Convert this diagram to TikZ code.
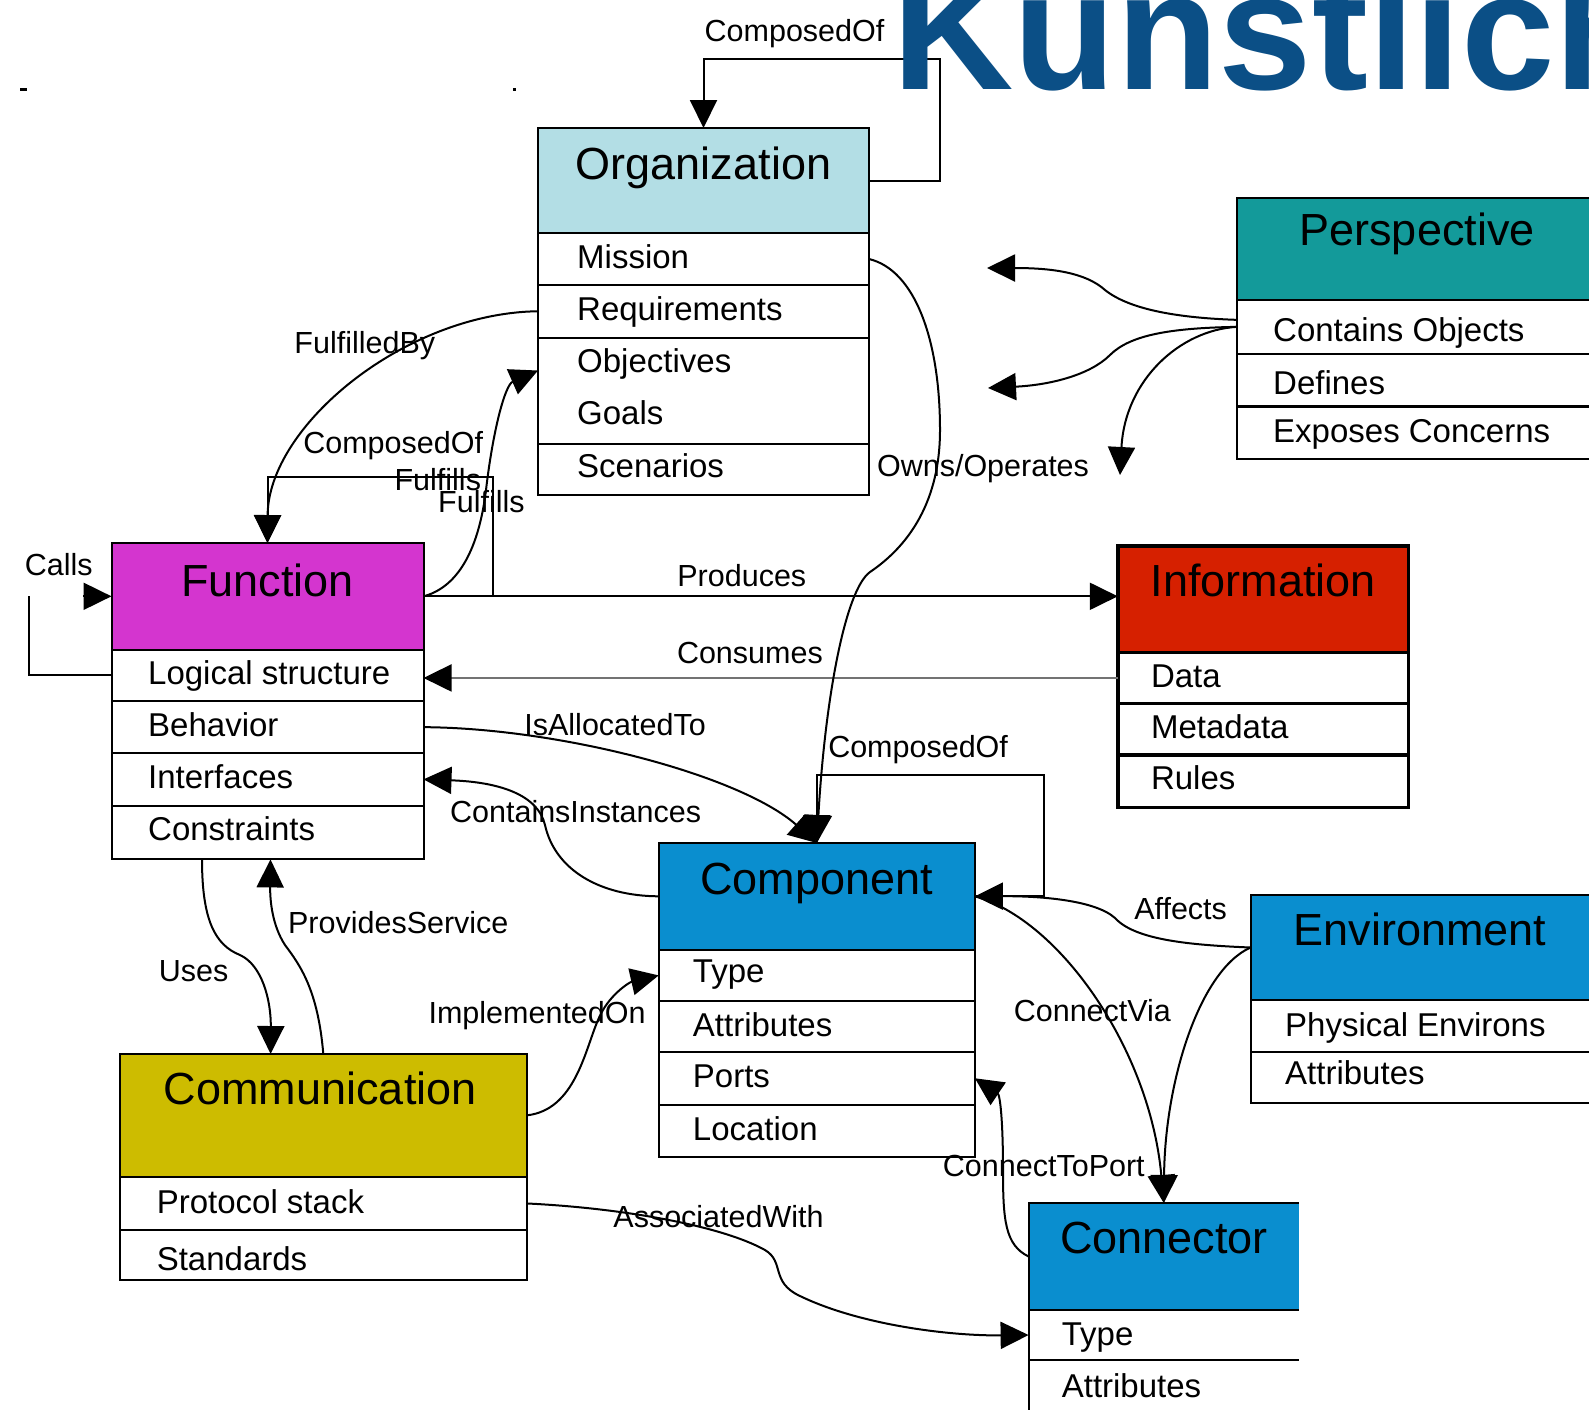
\documentclass[tikz,border=0pt]{standalone}
\usepackage{fontspec}
\setmainfont{Liberation Sans}
\usetikzlibrary{arrows.meta,calc}

\definecolor{orgc}{HTML}{B3DEE5}
\definecolor{funcc}{HTML}{D435CF}
\definecolor{persc}{HTML}{139A9A}
\definecolor{infoc}{HTML}{D62000}
\definecolor{compc}{HTML}{0A8ECF}
\definecolor{commc}{HTML}{CDBC00}
\definecolor{headc}{HTML}{0B4F86}

\tikzset{
  hdr/.style={draw, line width=2pt, inner sep=0pt, outer sep=0pt, anchor=north west},
  rowbox/.style={draw, line width=2pt, fill=white, inner sep=0pt, outer sep=0pt, anchor=north west},
  openrow/.style={fill=white, inner sep=0pt, outer sep=0pt, anchor=north west},
  ttl/.style={font=\fontsize{45}{50}\selectfont, anchor=base, inner sep=0pt},
  rtxt/.style={font=\fontsize{33}{38}\selectfont, anchor=base west, inner sep=0pt},
  lbl/.style={font=\fontsize{30.5}{34}\selectfont, inner sep=0pt},
  conn/.style={line width=2pt},
  arr/.style={line width=2pt, -{Triangle[length=28pt,width=27pt,color=black]}},
}

% one attribute row of a class box:
% [style] name, box above, width, height, text indent, text baseline drop, text
\newcommand\classrow[8][rowbox]{%
  \node[#1, minimum width=#4, minimum height=#5] (#2) at (#3.south west) {};
  \node[rtxt] (#2-t) at ($(#2.north west)+(#6,#7)$) {#8};
}

\begin{document}
\begin{tikzpicture}[x=1pt,y=-1pt]
\useasboundingbox (0,0) rectangle (1589,1409);
\fill[white] (0,0) rectangle (1589,1409);
\clip (0,0) rectangle (1589,1409);

% stray marks in the top margin
\fill (20,88) rectangle (27,91);
\fill (513,88) rectangle (516,91);

% ---------- Organization ----------
\node[hdr, fill=orgc, minimum width=331pt, minimum height=105pt] (org) at (538,128) {};
\node[ttl] (org-t) at ($(org.north)+(0,51)$) {Organization};
\classrow{orgMis}{org}{331pt}{52pt}{39}{35}{Mission}
\classrow{orgReq}{orgMis}{331pt}{52.5pt}{39}{35}{Requirements}
\classrow{orgObj}{orgReq}{331pt}{106.5pt}{39}{35}{Objectives}
\node[rtxt] (orgGoals-t) at ($(orgObj.north west)+(39,87)$) {Goals};
\classrow{orgSce}{orgObj}{331pt}{50.5pt}{39}{33}{Scenarios}

% ---------- Function ----------
\node[hdr, fill=funcc, minimum width=312pt, minimum height=106.6pt] (fn) at (111.5,543) {};
\node[ttl] (fn-t) at ($(fn.north)+(0,53)$) {Function};
\classrow{fnLog}{fn}{312pt}{51.7pt}{36.5}{35}{Logical structure}
\classrow{fnBeh}{fnLog}{312pt}{51.7pt}{36.5}{35}{Behavior}
\classrow{fnInt}{fnBeh}{312pt}{52.7pt}{36.5}{35}{Interfaces}
\classrow{fnCon}{fnInt}{312pt}{53.7pt}{36.5}{35}{Constraints}

% ---------- Perspective ----------
\node[hdr, fill=persc, minimum width=380pt, minimum height=102.4pt] (pers) at (1237,197.6) {};
\node[ttl] (pers-t) at ($(pers.north west)+(180,48)$) {Perspective};
\classrow{persCont}{pers}{380pt}{53.7pt}{36}{41}{Contains Objects}
\classrow{persDef}{persCont}{380pt}{52.7pt}{36}{41}{Defines}
\classrow{persExp}{persDef}{380pt}{52.6pt}{36}{36}{Exposes Concerns}
\draw[line width=3.5pt] (persDef.south west) -- (persDef.south east);

% ---------- Information ----------
\node[hdr, line width=3.5pt, fill=infoc, minimum width=290.8pt, minimum height=106.4pt] (info) at (1117.8,546.2) {};
\node[ttl] (info-t) at ($(info.north)+(0,50)$) {Information};
\classrow[rowbox,line width=3.5pt]{infoData}{info}{290.8pt}{50.7pt}{33}{35}{Data}
\classrow[rowbox,line width=3.5pt]{infoMeta}{infoData}{290.8pt}{51.7pt}{33}{35}{Metadata}
\classrow[rowbox,line width=3.5pt]{infoRules}{infoMeta}{290.8pt}{52.7pt}{33}{34}{Rules}

% ---------- Component ----------
\node[hdr, fill=compc, minimum width=316.2pt, minimum height=106.6pt] (comp) at (658.7,843) {};
\node[ttl] (comp-t) at ($(comp.north)+(0,51)$) {Component};
\classrow{compType}{comp}{316.2pt}{51.6pt}{34}{33}{Type}
\classrow{compAttr}{compType}{316.2pt}{50.7pt}{34}{35}{Attributes}
\classrow{compPorts}{compAttr}{316.2pt}{52.7pt}{34}{36}{Ports}
\classrow{compLoc}{compPorts}{316.2pt}{52.7pt}{34}{36}{Location}

% ---------- Environment ----------
\node[hdr, fill=compc, minimum width=360pt, minimum height=105.4pt] (env) at (1250.5,894.8) {};
\node[ttl] (env-t) at ($(env.north west)+(169.3,51)$) {Environment};
\classrow{envPhys}{env}{360pt}{51.7pt}{34.5}{36}{Physical Environs}
\classrow{envAttr}{envPhys}{360pt}{50.7pt}{34.5}{33}{Attributes}

% ---------- Communication ----------
\node[hdr, fill=commc, minimum width=407.4pt, minimum height=122.6pt] (comm) at (119.6,1054) {};
\node[ttl] (comm-t) at ($(comm.north)+(-3,50)$) {Communication};
\classrow{commProt}{comm}{407.4pt}{53.7pt}{37}{37}{Protocol stack}
\classrow{commStd}{commProt}{407.4pt}{49.7pt}{37}{40}{Standards}

% ---------- Connector (open on the right) ----------
\node[hdr, draw=none, fill=compc, minimum width=270.4pt, minimum height=107pt] (con) at (1028.6,1203) {};
\node[ttl] (con-t) at ($(con.north)+(0,50)$) {Connector};
\classrow[openrow]{conType}{con}{270.4pt}{50pt}{33}{35}{Type}
\classrow[openrow]{conAttr}{conType}{270.4pt}{70pt}{33}{37}{Attributes}
\draw[line width=2pt] (con.north east) -- (con.north west) -- (conAttr.south west)
  (conType.north west) -- (conType.north east)
  (conType.south west) -- (conType.south east);

% ---------- relations ----------
% Organization ComposedOf
\draw[arr] (org.east) -| (940.4,58.8) -| (org.north);
% FulfilledBy
\draw[arr] (orgReq.west) .. controls (405,313) and (268,426) .. (fn.north);
% Function ComposedOf
\draw[arr] (fn.east) -| (493,477) -| (fn.north);
% Fulfills
\coordinate (fulTip) at ($(orgObj.north west)+(0,33)$);
\draw[arr] (fn.east) .. controls (455,588) and (478,555) .. (486,490)
  .. controls (493,430) and (505,385) .. (fulTip);
% Calls
\coordinate (callsCorner) at (29,596.3);
\coordinate (callsGap) at (83,596.3);
\draw[conn] (fnLog.west) -| (callsCorner);
\draw[arr] (callsGap) -- (fn.west);
% Produces / Consumes
\draw[arr] (fn.east) -- (fn.east -| info.west);
\draw[arr, draw=black!55] (infoData.west) -- (infoData.west -| fnLog.east);
% IsAllocatedTo
\draw[arr] (fnBeh.east) .. controls (560,728) and (740,775) .. (comp.north);
% Owns/Operates
\draw[arr] (orgMis.east) .. controls (915,270) and (940,340) .. (940,430)
  .. controls (940,500) and (910,545) .. (870,572)
  .. controls (845,590) and (825,700) .. (comp.north);
% Component ComposedOf
\draw[arr] (comp.east) -| (1044,775.3) -| (comp.north);
% ContainsInstances
\draw[arr] (comp.west) .. controls (600,896) and (555,870) .. (545,825)
  .. controls (538,795) and (500,782) .. (fnInt.east);
% Uses
\draw[arr] ($(fnCon.south west)+(90.5,0)$) .. controls (202,920) and (215,945) .. (240,955)
  .. controls (262,965) and (271,1000) .. ($(comm.north west)+(151,0)$);
% ProvidesService
\draw[arr] (comm.north) .. controls (318,990) and (300,965) .. (285,945)
  .. controls (272,925) and (270,900) .. ($(fnCon.south)+(3,0)$);
% ImplementedOn
\draw[arr] (comm.east) .. controls (575,1110) and (585,1050) .. (598,1020)
  .. controls (608,995) and (630,982) .. (compType.west);
% AssociatedWith
\draw[arr] (commProt.east) .. controls (620,1208) and (720,1225) .. (765,1250)
  .. controls (785,1262) and (770,1282) .. (800,1296)
  .. controls (860,1325) and (950,1336) .. (conType.west);
% ConnectToPort
\draw[arr] (con.west) .. controls (1005,1245) and (1003,1220) .. (1003,1170)
  .. controls (1003,1120) and (1000,1095) .. (compPorts.east);
% ConnectVia
\draw[arr] (comp.east) .. controls (1060,920) and (1150,1050) .. (con.north);
% Affects
\draw[arr] (env.west) .. controls (1190,945) and (1135,940) .. (1115,918)
  .. controls (1095,900) and (1040,896) .. (comp.east);
\draw[arr] (env.west) .. controls (1200,970) and (1165,1080) .. (con.north);
% Perspective
\coordinate (pa) at (987,268);
\coordinate (pb) at (988,388);
\coordinate (pc) at (1120,475);
\draw[arr] ($(persCont.west)+(0,-7)$) .. controls (1180,318) and (1130,310) .. (1105,290)
  .. controls (1085,272) and (1050,268) .. (pa);
\draw[arr] (persCont.west) .. controls (1170,328) and (1130,335) .. (1110,355)
  .. controls (1090,375) and (1050,385) .. (pb);
\draw[arr] (persCont.west) .. controls (1180,330) and (1125,380) .. (pc);

% ---------- relation labels ----------
\node[lbl] (l-orgcomp) at (794.5,33.4) {ComposedOf};
\node[lbl] (l-fulby) at (364.8,345.6) {FulfilledBy};
\node[lbl] (l-fncomp) at (393.2,445.9) {ComposedOf};
\node[lbl] (l-ful1) at (437.8,479.3) {Fulfills};
\node[lbl] (l-ful2) at (481.4,501.6) {Fulfills};
\node[lbl] (l-calls) at (58.8,564.5) {Calls};
\node[lbl] (l-owns) at (983,468.2) {Owns/Operates};
\node[lbl] (l-prod) at (741.8,575.6) {Produces};
\node[lbl] (l-cons) at (749.9,652.6) {Consumes};
\node[lbl] (l-alloc) at (615.1,724.6) {IsAllocatedTo};
\node[lbl] (l-compcomp) at (918.1,749.9) {ComposedOf};
\node[lbl] (l-inst) at (575.6,811.7) {ContainsInstances};
\node[lbl] (l-prov) at (398.3,922.2) {ProvidesService};
\node[lbl] (l-uses) at (193.6,970.8) {Uses};
\node[lbl] (l-impl) at (537.1,1015.4) {ImplementedOn};
\node[lbl] (l-aff) at (1180.6,909) {Affects};
\node[lbl] (l-via) at (1092.4,1010.4) {ConnectVia};
\node[lbl] (l-port) at (1043.8,1166.4) {ConnectToPort};
\node[lbl] (l-assoc) at (718.5,1217) {AssociatedWith};

% ---------- heading ----------
\node[anchor=base west, inner sep=0pt, text=headc,
      font=\fontsize{168}{170}\selectfont\bfseries] (heading) at (892,89) {Künstlich};
\end{tikzpicture}
\end{document}
